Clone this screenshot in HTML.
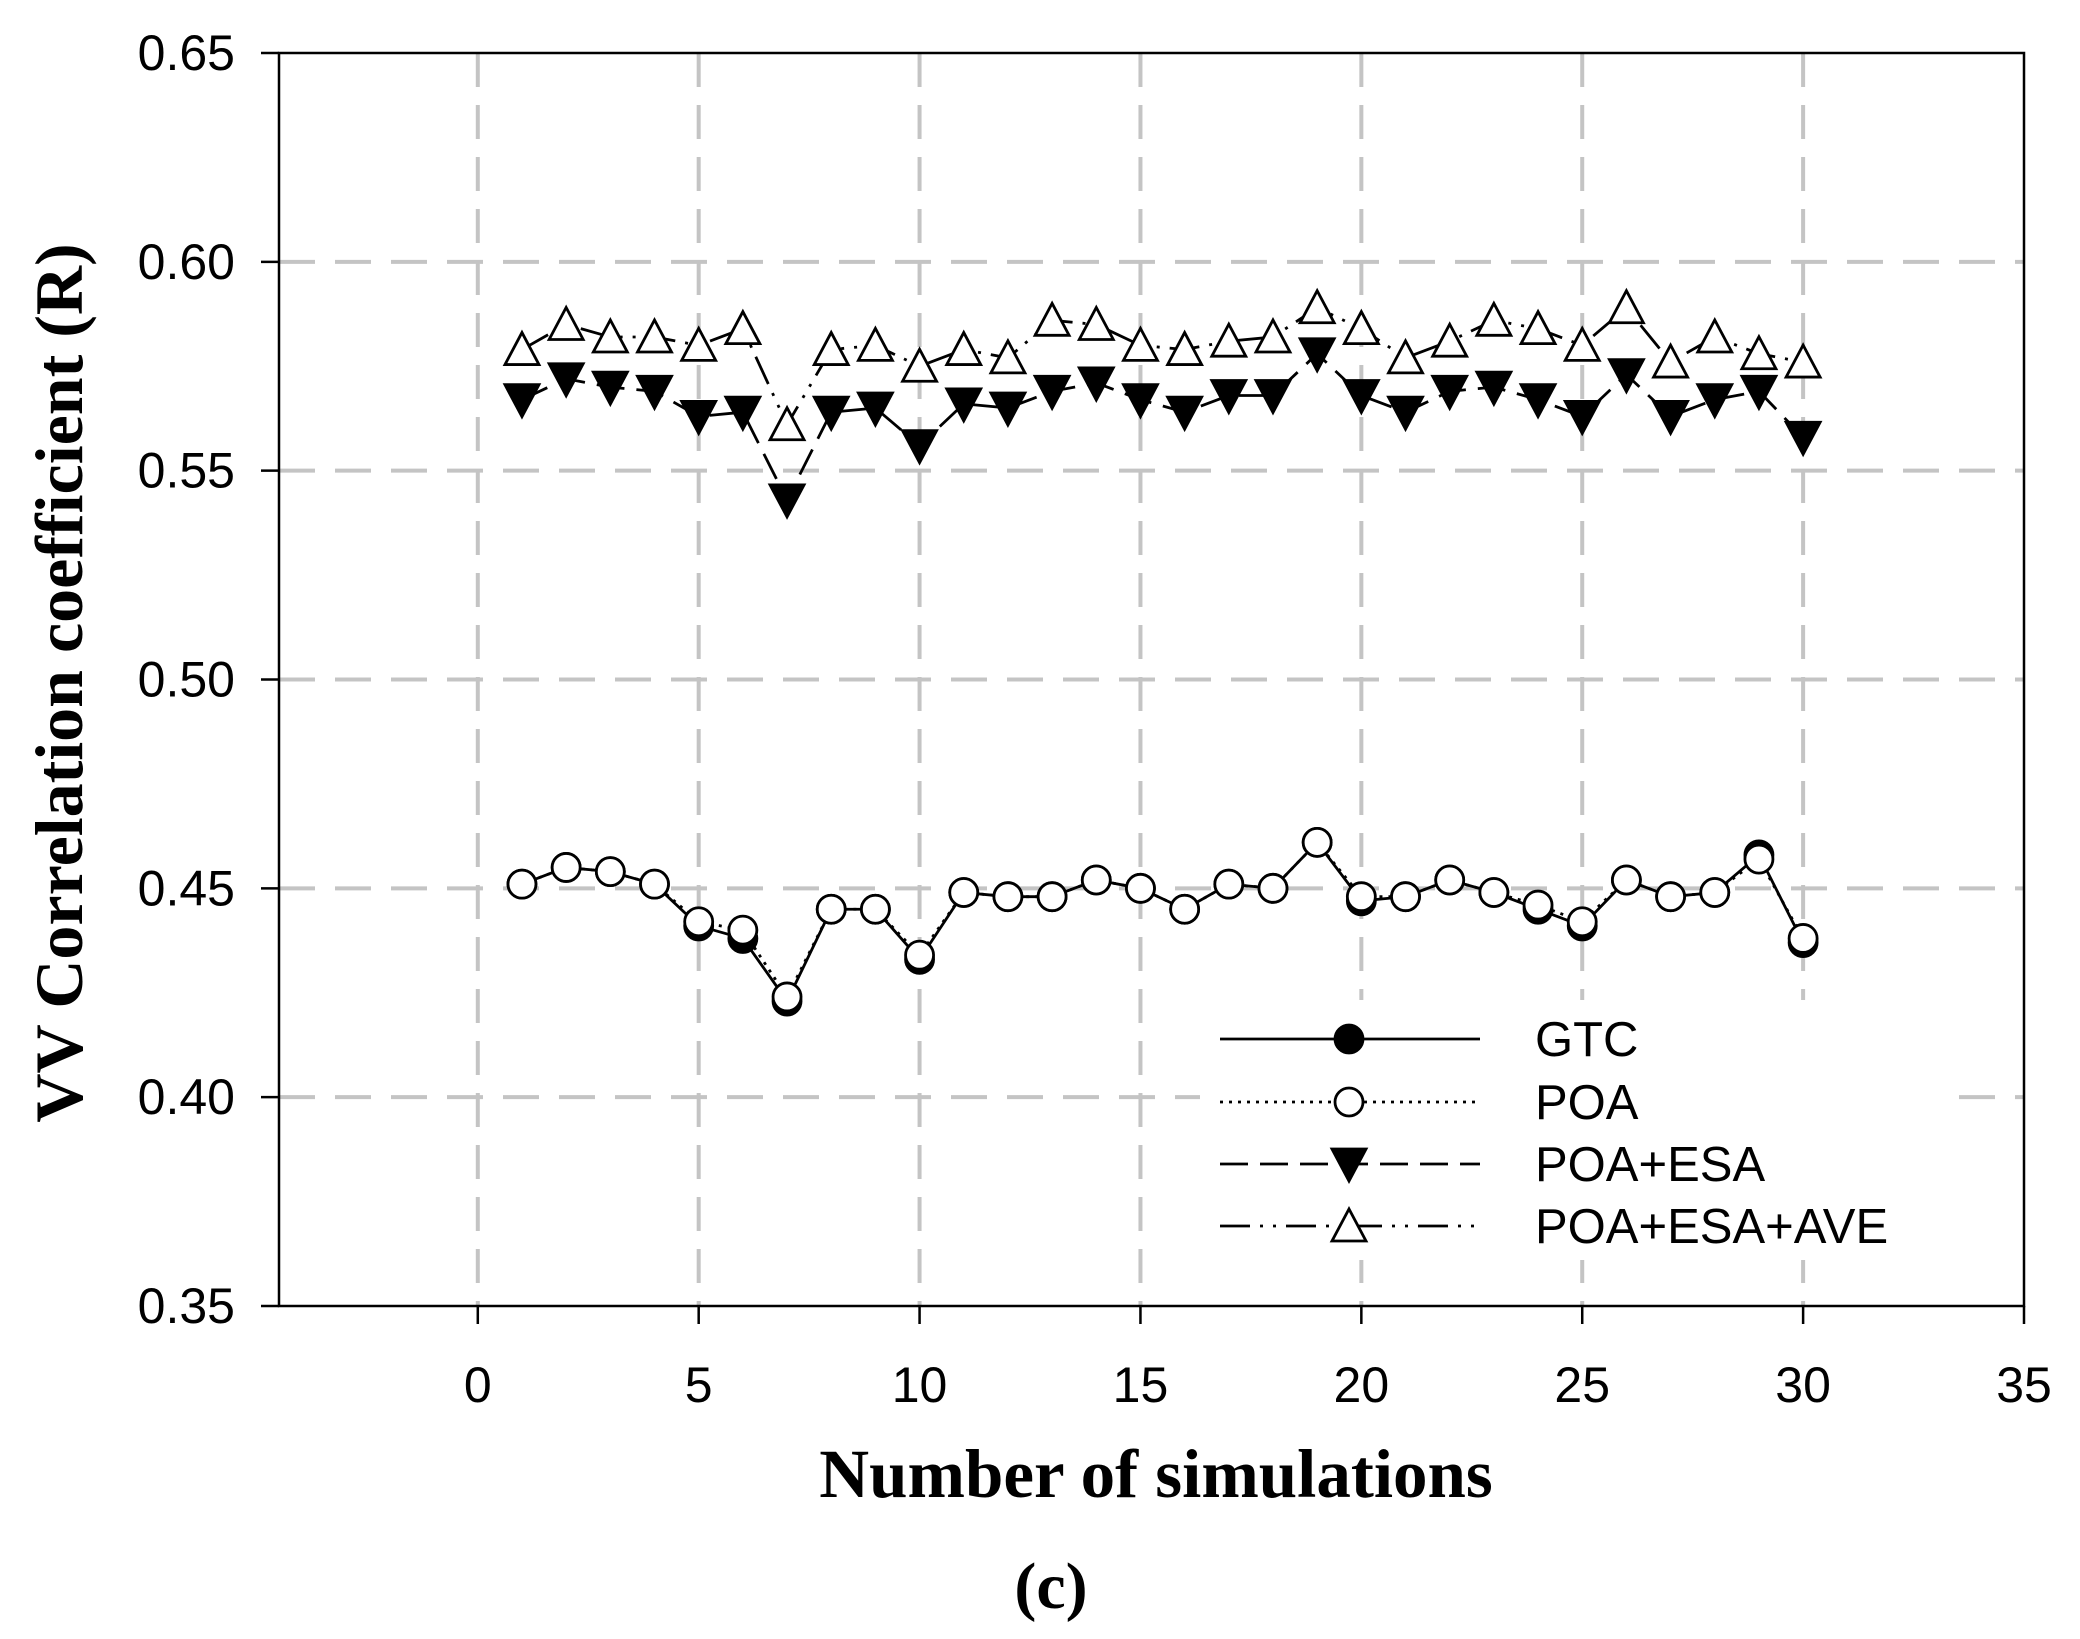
<!DOCTYPE html>
<html><head><meta charset="utf-8"><style>
html,body{margin:0;padding:0;background:#fff;}
svg{display:block;}
</style></head><body>
<svg id="chart" width="2080" height="1639" viewBox="0 0 2080 1639" xmlns="http://www.w3.org/2000/svg">
<rect width="2080" height="1639" fill="#fff"/>
</svg>
<script>
const xs = [1,2,3,4,5,6,7,8,9,10,11,12,13,14,15,16,17,18,19,20,21,22,23,24,25,26,27,28,29,30];
const gtc = [0.451,0.455,0.454,0.451,0.441,0.438,0.423,0.445,0.445,0.433,0.449,0.448,0.448,0.452,0.450,0.445,0.451,0.450,0.461,0.447,0.448,0.452,0.449,0.445,0.441,0.452,0.448,0.449,0.458,0.437];
const poa = [0.451,0.455,0.454,0.451,0.442,0.440,0.424,0.445,0.445,0.434,0.449,0.448,0.448,0.452,0.450,0.445,0.451,0.450,0.461,0.448,0.448,0.452,0.449,0.446,0.442,0.452,0.448,0.449,0.457,0.438];
const poaEsa = [0.567,0.572,0.570,0.569,0.563,0.564,0.543,0.564,0.565,0.556,0.566,0.565,0.569,0.571,0.567,0.564,0.568,0.568,0.578,0.568,0.564,0.569,0.570,0.567,0.563,0.573,0.563,0.567,0.569,0.558];
const poaEsaAve = [0.579,0.585,0.582,0.582,0.580,0.584,0.561,0.579,0.580,0.575,0.579,0.577,0.586,0.585,0.580,0.579,0.581,0.582,0.589,0.584,0.577,0.581,0.586,0.584,0.580,0.589,0.576,0.582,0.578,0.576];
const xTicks = [0,5,10,15,20,25,30,35];
const yTicks = [0.35,0.40,0.45,0.50,0.55,0.60,0.65];
const yTickLabels = ["0.35","0.40","0.45","0.50","0.55","0.60","0.65"];

const L=279,R=2024,T=53,B=1306;
const xMin=-4.5,xMax=35,yMin=0.35,yMax=0.65;
const sx=v=>L+(v-xMin)/(xMax-xMin)*(R-L);
const sy=v=>B-(v-yMin)/(yMax-yMin)*(B-T);
const svg=document.getElementById('chart');
const NS='http://www.w3.org/2000/svg';
function mk(tag,attrs,parent){const e=document.createElementNS(NS,tag);for(const k in attrs)e.setAttribute(k,attrs[k]);(parent||svg).appendChild(e);return e;}

const grid=mk('g',{});


xTicks.forEach(t=>{if(t>xMin&&t<xMax){const l=mk('line',{x1:sx(t),x2:sx(t),y1:T,y2:B,stroke:'#c4c4c4','stroke-width':4,'stroke-dasharray':'34 18'},grid);

}});
yTicks.forEach(t=>{if(t>yMin&&t<yMax){const l=mk('line',{x1:L,x2:R,y1:sy(t),y2:sy(t),stroke:'#c4c4c4','stroke-width':4,'stroke-dasharray':'36 20'},grid);

}});

const lbg=mk('rect',{x:1200,y:1000,width:740,height:260,fill:'#fff'});



const frame=mk('rect',{x:L,y:T,width:R-L,height:B-T,fill:'none',stroke:'#000','stroke-width':2.5});



yTicks.forEach((t,i)=>{
 const tk=mk('line',{x1:L-18,x2:L,y1:sy(t),y2:sy(t),stroke:'#000','stroke-width':2.5});
 
 
 const tx=mk('text',{x:L-44,y:sy(t)+17,'text-anchor':'end','font-family':'Liberation Sans, sans-serif','font-size':50});
 tx.textContent=yTickLabels[i];
 
 
});
xTicks.forEach(t=>{
 const tk=mk('line',{x1:sx(t),x2:sx(t),y1:B,y2:B+18,stroke:'#000','stroke-width':2.5});
 
 
 const tx=mk('text',{x:sx(t),y:1402,'text-anchor':'middle','font-family':'Liberation Sans, sans-serif','font-size':50});
 tx.textContent=String(t);
 
 
});

function line(vals,dash,name){
 const d=vals.map((v,i)=>(i?'L':'M')+sx(xs[i])+' '+sy(v)).join(' ');
 const p=mk('path',{d:d,fill:'none',stroke:'#000','stroke-width':2.8,'stroke-dasharray':dash});
 
 
}
function circle(x,y,fill,name){const c=mk('circle',{cx:x,cy:y,r:14,fill:fill,stroke:'#000','stroke-width':2.8});
 
 }
function tri(x,y,down,name){const h=15;const pts=down?`${x-17},${y-h} ${x+17},${y-h} ${x},${y+h+2}`:`${x-17},${y+h} ${x+17},${y+h} ${x},${y-h-2}`;
 const p=mk('polygon',{points:pts,fill:down?'#000':'#fff',stroke:'#000','stroke-width':2.8});
 
 }

line(poaEsaAve,'30 10 3 10 3 10','line-poa-esa-ave');
line(poaEsa,'28 12','line-poa-esa');
line(gtc,'none','line-gtc');
line(poa,'3 6','line-poa');
gtc.forEach((v,i)=>circle(sx(xs[i]),sy(v),'#000','point-gtc'));
poa.forEach((v,i)=>circle(sx(xs[i]),sy(v),'#fff','point-poa'));
poaEsa.forEach((v,i)=>tri(sx(xs[i]),sy(v),true,'point-poa-esa'));
poaEsaAve.forEach((v,i)=>tri(sx(xs[i]),sy(v),false,'point-poa-esa-ave'));

const entries=[['GTC','none','c','#000'],['POA','3 6','c','#fff'],['POA+ESA','28 12','d',''],['POA+ESA+AVE','30 10 3 10 3 10','u','']];
const rowsY=[1044,1107,1169,1231];
entries.forEach((e,i)=>{
 const g=mk('g',{});
 
 
 const y=rowsY[i]-5;
 mk('line',{x1:1220,x2:1480,y1:y,y2:y,stroke:'#000','stroke-width':2.8,'stroke-dasharray':e[1]},g);
 const x=1349;
 if(e[2]==='c'){mk('circle',{cx:x,cy:y,r:14,fill:e[3],stroke:'#000','stroke-width':2.8},g);}
 else{const down=e[2]==='d';const h=15;mk('polygon',{points:down?`${x-17},${y-h} ${x+17},${y-h} ${x},${y+h+2}`:`${x-17},${y+h} ${x+17},${y+h} ${x},${y-h-2}`,fill:down?'#000':'#fff',stroke:'#000','stroke-width':2.8},g);}
 const t=mk('text',{x:1535,y:y+17,'font-family':'Liberation Sans, sans-serif','font-size':49},g);
 t.textContent=e[0];
});

const xt=mk('text',{x:1156,y:1497,'text-anchor':'middle','font-family':'Liberation Serif, serif','font-weight':'bold','font-size':69});
xt.textContent='Number of simulations';


const yt=mk('text',{x:0,y:0,'text-anchor':'middle','font-family':'Liberation Serif, serif','font-weight':'bold','font-size':68,transform:'translate(82,683) rotate(-90)'});
yt.textContent='VV Correlation coefficient (R)';


const cap=mk('text',{x:1051,y:1608,'text-anchor':'middle','font-family':'Liberation Serif, serif','font-weight':'bold','font-size':66});
cap.textContent='(c)';


</script>
</body></html>
